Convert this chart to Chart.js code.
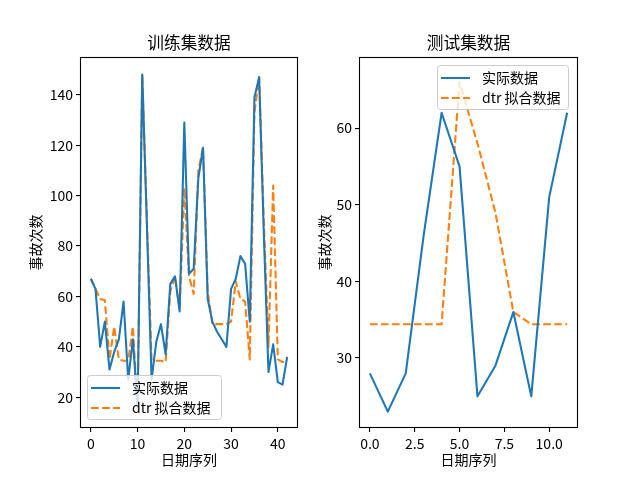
<!DOCTYPE html>
<html>
<head>
<meta charset="utf-8">
<title>事故次数</title>
<script src="https://cdn.jsdelivr.net/npm/chart.js@4"></script>
<style>
    html, body { margin: 0; padding: 0; background: #fff; }
    #wrap { position: relative; width: 640px; height: 480px; overflow: hidden; }
    canvas { position: absolute; top: 0; }
</style>
</head>
<body>
<div id="wrap">
    <canvas id="trainChart" width="300" height="480" style="left:0px"></canvas>
    <canvas id="testChart" width="340" height="480" style="left:300px"></canvas>
</div>
<script>
// Data
const trainActual = [67, 63, 40, 50, 31, 38, 43, 58, 27, 43, 16, 148, 88, 27, 42, 49, 37, 65, 68, 54,
    129, 69, 71, 107, 119, 59, 50, 46, 43, 40, 63, 67, 76, 73, 50, 139, 147, 85, 30, 41, 26, 25, 36];
const trainFitted = [67, 63, 59, 58.5, 35, 48, 35, 34.5, 34.5, 48, 15, 148, 90, 35, 34.5, 34.5, 34, 62, 68, 55,
    103, 68, 61, 110, 119, 62, 49, 49, 49, 49, 50, 66, 59, 58, 35, 133, 147, 90, 40, 104, 35, 34, 34];
const testActual = [28, 23, 28, 46, 62, 55, 25, 29, 36, 25, 51, 62];
const testFitted = [34.4, 34.4, 34.4, 34.4, 34.4, 66, 58, 49, 36, 34.4, 34.4, 34.4];

const trainXTicks = [0, 10, 20, 30, 40];
const trainYTicks = [20, 40, 60, 80, 100, 120, 140];
const testXTicks = [0, 2.5, 5, 7.5, 10];
const testYTicks = [30, 40, 50, 60];

const seriesLabels = ['实际数据', 'dtr 拟合数据'];

const FONT = "'Noto Sans CJK SC', 'Noto Sans', sans-serif";
const BLUE = '#1f77b4';
const ORANGE = '#ff7f0e';
const LINE_W = 2.08;
const DASH = [7.7, 3.33];

function toPoints(values) {
    return values.map(function(v, i) { return { x: i, y: v }; });
}

// Frame, title and in-axes legend (drawn like matplotlib)
const decorPlugin = {
    id: 'decor',
    afterDatasetsDraw: function(chart, args, opts) {
        const ctx = chart.ctx;
        const a = chart.chartArea;
        ctx.save();
        ctx.strokeStyle = '#000';
        ctx.lineWidth = 1.1;
        ctx.strokeRect(a.left - 0.5, a.top - 0.5, a.right - a.left + 1, a.bottom - a.top + 1);

        ctx.fillStyle = '#000';
        ctx.font = '16.7px ' + FONT;
        ctx.textAlign = 'center';
        ctx.textBaseline = 'middle';
        ctx.fillText(opts.title, (a.left + a.right) / 2, 43);

        // legend box
        const lg = opts.legend;
        ctx.beginPath();
        ctx.roundRect(lg.x + 0.5, lg.y + 0.5, lg.w, lg.h, 3);
        ctx.fillStyle = 'rgba(255,255,255,0.8)';
        ctx.fill();
        ctx.strokeStyle = '#cccccc';
        ctx.lineWidth = 1;
        ctx.stroke();

        ctx.font = '14px ' + FONT;
        ctx.textAlign = 'left';
        chart.data.datasets.forEach(function(ds, i) {
            const y = lg.y + 13 + i * 20;
            ctx.beginPath();
            ctx.setLineDash(ds.borderDash || []);
            ctx.strokeStyle = ds.borderColor;
            ctx.lineWidth = LINE_W;
            ctx.moveTo(lg.x + 4, y);
            ctx.lineTo(lg.x + 33, y);
            ctx.stroke();
            ctx.setLineDash([]);
            ctx.fillStyle = '#000';
            ctx.fillText(ds.label, lg.x + 45, y);
        });
        ctx.restore();
    }
};

function makeChart(canvasId, cfg) {
    const font = { family: FONT, size: 14 };
    return new Chart(document.getElementById(canvasId), {
        type: 'line',
        data: {
            datasets: [{
                label: seriesLabels[0],
                data: toPoints(cfg.actual),
                borderColor: BLUE,
                borderWidth: LINE_W,
                pointRadius: 0,
                borderJoinStyle: 'round',
                fill: false
            }, {
                label: seriesLabels[1],
                data: toPoints(cfg.fitted),
                borderColor: ORANGE,
                borderWidth: LINE_W,
                borderDash: DASH,
                pointRadius: 0,
                borderJoinStyle: 'round',
                fill: false
            }]
        },
        options: {
            responsive: false,
            animation: false,
            layout: { padding: { left: 0, right: cfg.padRight, top: 58, bottom: 0 } },
            scales: {
                x: {
                    type: 'linear',
                    min: cfg.xMin,
                    max: cfg.xMax,
                    afterBuildTicks: function(s) { s.ticks = cfg.xTicks.map(function(v) { return { value: v }; }); },
                    afterFit: function(s) { s.height = 53; },
                    ticks: {
                        font: font, color: '#000', padding: 3, maxRotation: 0, autoSkip: false,
                        callback: cfg.xFormat
                    },
                    grid: { drawOnChartArea: false, drawTicks: true, tickLength: 5, color: '#000', lineWidth: 1.1 },
                    border: { display: false },
                    title: { display: true, text: '日期序列', font: font, color: '#000', padding: { top: 0, bottom: 12 } }
                },
                y: {
                    type: 'linear',
                    min: cfg.yMin,
                    max: cfg.yMax,
                    afterBuildTicks: function(s) { s.ticks = cfg.yTicks.map(function(v) { return { value: v }; }); },
                    afterFit: function(s) { s.width = cfg.yWidth; },
                    ticks: {
                        font: font, color: '#000', padding: 3, autoSkip: false,
                        callback: function(v) { return String(v); }
                    },
                    grid: { drawOnChartArea: false, drawTicks: true, tickLength: 5, color: '#000', lineWidth: 1.1 },
                    border: { display: false },
                    title: { display: true, text: '事故次数', font: font, color: '#000', padding: { top: cfg.yTitlePad, bottom: 0 } }
                }
            },
            plugins: {
                legend: { display: false },
                tooltip: { enabled: false },
                decor: { title: cfg.title, legend: cfg.legend }
            }
        },
        plugins: [decorPlugin]
    });
}

makeChart('trainChart', {
    title: '训练集数据',
    actual: trainActual,
    fitted: trainFitted,
    xTicks: trainXTicks,
    yTicks: trainYTicks,
    xMin: -2.1, xMax: 44.1,
    yMin: 8.2, yMax: 154.6,
    xFormat: function(v) { return String(v); },
    yWidth: 81,
    padRight: 3,
    yTitlePad: 27.6,
    legend: { x: 87, y: 375, w: 134, h: 44 }
});

makeChart('testChart', {
    title: '测试集数据',
    actual: testActual,
    fitted: testFitted,
    xTicks: testXTicks,
    yTicks: testYTicks,
    xMin: -0.55, xMax: 11.55,
    yMin: 21.0, yMax: 69.15,
    xFormat: function(v) { return v.toFixed(1); },
    yWidth: 60,
    padRight: 63,
    yTitlePad: 16.6,
    legend: { x: 137, y: 65, w: 131, h: 44 }
});
</script>
</body>
</html>
